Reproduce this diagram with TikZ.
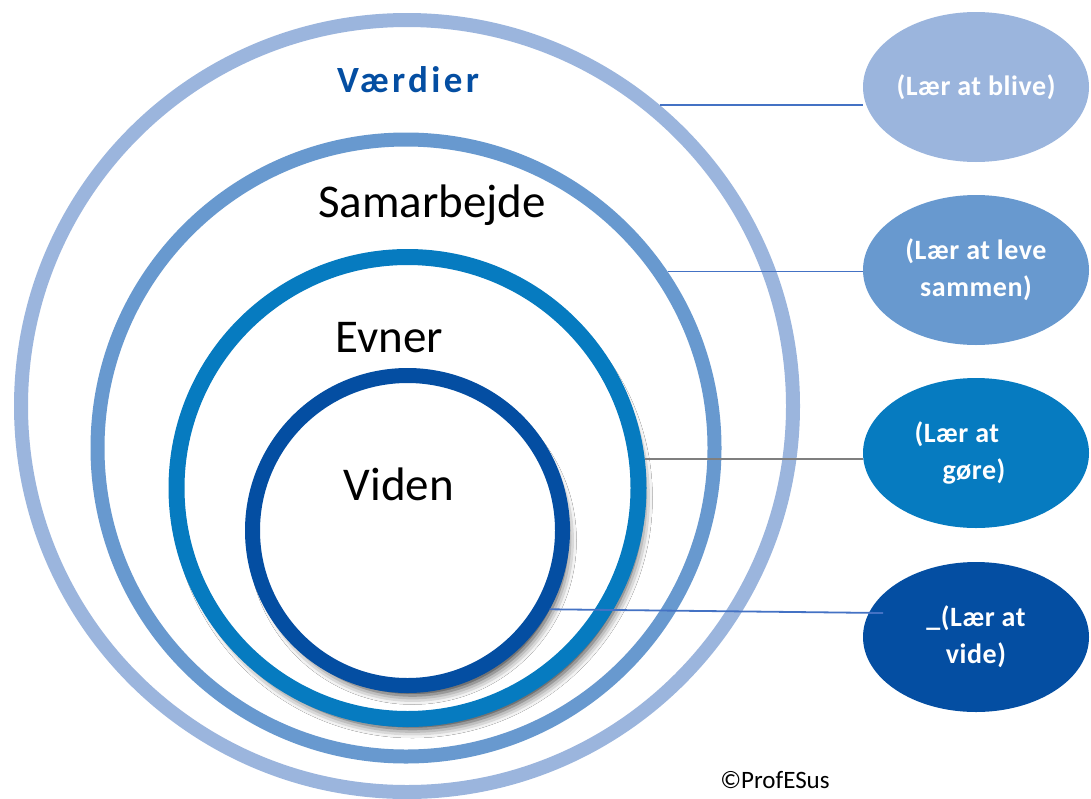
\documentclass[tikz,border=0pt]{standalone}
\usepackage{fontspec}
\setmainfont{Carlito}
\newfontfamily\spacedfont[LetterSpace=9]{Carlito}
\newfontfamily\goalfont[LetterSpace=2]{Carlito}
\usetikzlibrary{shapes.geometric,shadows.blur}
\definecolor{ringA}{HTML}{9BB5DD}
\definecolor{ringB}{HTML}{6899CF}
\definecolor{ringC}{HTML}{067BC0}
\definecolor{ringD}{HTML}{044EA2}
\definecolor{linkblue}{HTML}{4472C4}
\definecolor{linkgray}{HTML}{7F7F7F}

\begin{document}
\begin{tikzpicture}[x=1pt, y=-1pt,
    ring/.style ={circle, draw, fill=white, inner sep=0pt},
    drop/.style ={blur shadow={shadow xshift=5pt, shadow yshift=-10pt, shadow blur radius=9pt, shadow opacity=80}},
    goal/.style ={ellipse, minimum width=226pt, minimum height=150pt, inner sep=0pt,
      align=center, text=white, font=\goalfont\bfseries\fontsize{28}{37}\selectfont},
    title/.style ={anchor=base, font=\fontsize{47}{50}\selectfont},
    link/.style ={line width=1.8pt, linkblue}]
   \useasboundingbox (0,0) rectangle (1091,798);
   % rings
   \node[ring, draw=ringA, line width=14pt, minimum size=772pt] (V) at (407,406) {};
   \node[ring, draw=ringB, line width=14pt, minimum size=617pt] (S) at (406,448) {};
   \node[ring, drop, draw=ringC, line width=16pt, minimum size=462pt] (E) at (407.5,488) {};
   \node[ring, drop, draw=ringD, line width=15pt, minimum size=310pt] (K) at (407.5,530.5) {};
   \node[anchor=base, text=ringD, font=\spacedfont\bfseries\fontsize{37}{40}\selectfont] (tV) at (408,92) {Værdier};
   \node[title] (tS) at (432,217) {Samarbejde};
   \node[title] (tE) at (389,352) {Evner};
   \node[title] (tK) at (399,500) {Viden};
   % goals
   \node[goal, fill=ringA] (G1) at (976,87) {(Lær at blive)};
   \node[goal, fill=ringB] (G2) at (976,270) {(Lær at leve\\sammen)};
   \node[goal, fill=ringC, align=left] (G3) at (976,453) {(Lær at\\\hspace*{28pt}gøre)\hspace*{32pt}};
   \node[goal, fill=ringD] (G4) at (976,637) {\_(Lær at\\vide)};
   \coordinate (w4) at (883,613);
   \draw[link] (V.50) to (G1.west |- V.50);
   \draw[link] (S.34) to (G2.west |- S.34);
   \draw[link, linkgray] (E.7) to (G3.west |- E.7);
   \draw[link] (K.-29) to (w4);
   \node[anchor=base, font=\fontsize{25}{30}\selectfont] (C) at (775,788) {©ProfESus};
 \end{tikzpicture}
\end{document}
